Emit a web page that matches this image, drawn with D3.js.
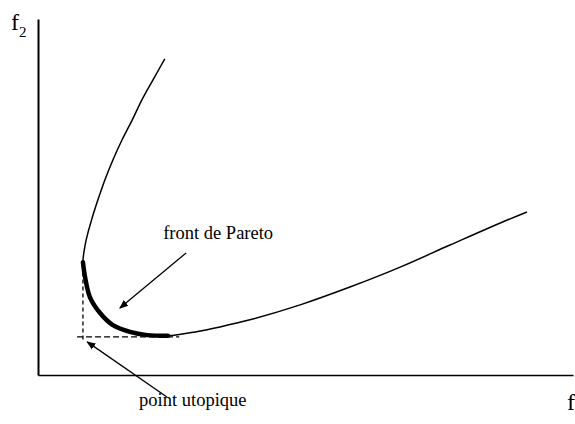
<!DOCTYPE html>
<html>
<head>
<meta charset="utf-8">
<script src="https://cdn.jsdelivr.net/npm/d3@7"></script>
<style>
  html, body { margin: 0; padding: 0; background: #fff; }
  svg { display: block; }
  text { font-family: "Liberation Serif", "Times New Roman", serif; fill: #000; }
</style>
</head>
<body>
<svg id="chart" width="575" height="424"></svg>
<script>
// Objective-space curve (f1, f2), traced from the upper branch down through the knee and out to the right
const curveF1 = [2.37, 2.15, 1.94, 1.76, 1.57, 1.40, 1.25, 1.12, 1.00, 0.90, 0.84, 0.88, 0.97, 1.16, 1.40, 1.72, 2.04, 2.43, 2.94, 3.40, 3.96, 4.90, 5.83, 6.77, 7.70, 8.64, 9.14];
const curveF2 = [8.88, 8.29, 7.72, 7.16, 6.60, 6.04, 5.48, 4.92, 4.35, 3.79, 3.17, 2.75, 2.19, 1.74, 1.40, 1.21, 1.12, 1.10, 1.21, 1.35, 1.55, 1.97, 2.47, 3.03, 3.65, 4.27, 4.58];

// Index range of the Pareto-optimal part of the curve
const paretoStart = 10;
const paretoEnd = 17;

// Utopia point and the extent of its guide lines
const utopia = [0.84, 1.07];
const guideF1 = [0.73, 2.64];
const guideF2 = [1.00, 3.17];

// Annotations: label text, label anchor, arrow tail and arrow tip (f1, f2)
const labels = ["front de Pareto", "point utopique"];
const labelAt = [[2.34, 3.81], [1.89, -0.87]];
const arrowFrom = [[2.77, 3.43], [2.41, -0.62]];
const arrowTo = [[1.53, 1.88], [0.92, 0.93]];

const svg = d3.select("#chart");

const x = d3.scaleLinear().domain([0, 10]).range([38, 573]);
const y = d3.scaleLinear().domain([0, 10]).range([375, 19]);

// Arrowhead marker
svg.append("defs").append("marker")
  .attr("id", "head")
  .attr("viewBox", "0 0 10 10")
  .attr("refX", 9).attr("refY", 5)
  .attr("markerWidth", 9).attr("markerHeight", 9)
  .attr("markerUnits", "userSpaceOnUse")
  .attr("orient", "auto")
  .append("path")
  .attr("d", "M0,1 L10,5 L0,9 Z")
  .attr("fill", "#000");

// Axes: bare lines, no ticks
const xAxis = svg.append("g")
  .attr("transform", `translate(0,${y(0)})`)
  .call(d3.axisBottom(x).tickValues([]).tickSizeOuter(0));
xAxis.select(".domain").attr("stroke", "#000").attr("stroke-width", 1.6);

const yAxis = svg.append("g")
  .attr("transform", `translate(${x(0)},0)`)
  .call(d3.axisLeft(y).tickValues([]).tickSizeOuter(0));
yAxis.select(".domain").attr("stroke", "#000").attr("stroke-width", 2);

// Axis titles
const f2 = svg.append("text").attr("x", 11).attr("y", 30).attr("font-size", 24);
f2.append("tspan").text("f");
f2.append("tspan").attr("dy", 7).attr("font-size", 15).text("2");

const f1 = svg.append("text").attr("x", 567).attr("y", 410).attr("font-size", 24);
f1.append("tspan").text("f");
f1.append("tspan").attr("dy", 7).attr("font-size", 15).text("1");

const pts = curveF1.map((v, i) => [v, curveF2[i]]);
const line = d3.line()
  .x(d => x(d[0]))
  .y(d => y(d[1]))
  .curve(d3.curveCatmullRom.alpha(0.5));

// Whole curve
svg.append("path")
  .attr("d", line(pts))
  .attr("fill", "none")
  .attr("stroke", "#000")
  .attr("stroke-width", 1.5);

// Pareto front, drawn bold
svg.append("path")
  .attr("d", line(pts.slice(paretoStart, paretoEnd + 1)))
  .attr("fill", "none")
  .attr("stroke", "#000")
  .attr("stroke-width", 4.5)
  .attr("stroke-linecap", "round");

// Dashed guide lines through the utopia point
svg.append("line")
  .attr("x1", x(utopia[0])).attr("x2", x(utopia[0]))
  .attr("y1", y(guideF2[0])).attr("y2", y(guideF2[1]))
  .attr("stroke", "#000").attr("stroke-width", 1.3)
  .attr("stroke-dasharray", "4,3");
svg.append("line")
  .attr("x1", x(guideF1[0])).attr("x2", x(guideF1[1]))
  .attr("y1", y(utopia[1])).attr("y2", y(utopia[1]))
  .attr("stroke", "#000").attr("stroke-width", 1.3)
  .attr("stroke-dasharray", "6,3");

// Annotation arrows and labels
labels.forEach((t, i) => {
  svg.append("line")
    .attr("x1", x(arrowFrom[i][0])).attr("y1", y(arrowFrom[i][1]))
    .attr("x2", x(arrowTo[i][0])).attr("y2", y(arrowTo[i][1]))
    .attr("stroke", "#000").attr("stroke-width", 1.3)
    .attr("marker-end", "url(#head)");
  svg.append("text")
    .attr("x", x(labelAt[i][0])).attr("y", y(labelAt[i][1]))
    .attr("font-size", 18.5)
    .text(t);
});
</script>
</body>
</html>
